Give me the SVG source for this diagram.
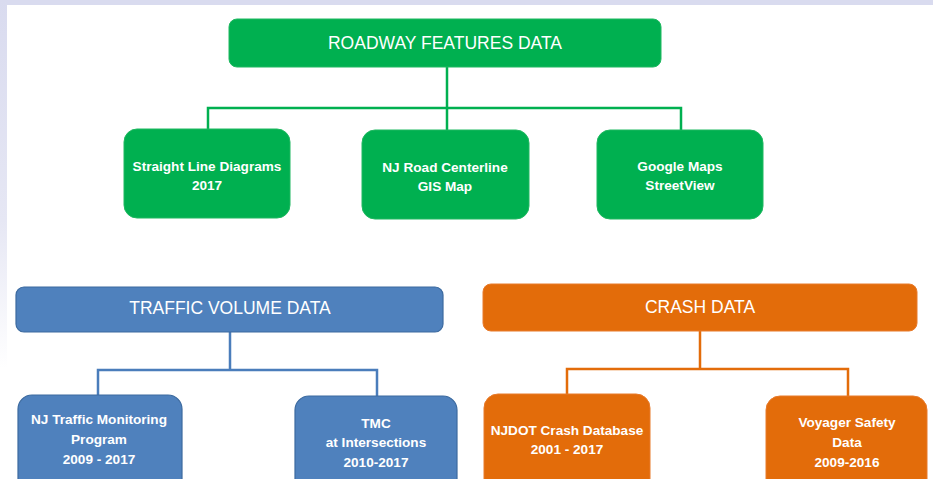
<svg xmlns="http://www.w3.org/2000/svg" width="933" height="479" viewBox="0 0 933 479">
<defs>
<linearGradient id="lband" x1="0" y1="0" x2="0" y2="1">
<stop offset="0" stop-color="#d9dbef"/>
<stop offset="0.6" stop-color="#e6e7f4"/>
<stop offset="1" stop-color="#ffffff"/>
</linearGradient>
</defs>
<style>
.t{font-family:"Liberation Sans",Arial,sans-serif;fill:#ffffff;text-anchor:middle}
.h{font-size:17.5px}
.c{font-size:13.6px;font-weight:bold}
.g{fill:#00b050;stroke:#1fb860;stroke-width:1}
.b{fill:#4f81bd;stroke:#3c6a9f;stroke-width:1.2}
.o{fill:#e36c0a;stroke:#e87a2a;stroke-width:1}
.lg{fill:none;stroke:#00b050;stroke-width:2.5}
.lb{fill:none;stroke:#4a7dbb;stroke-width:2.5}
.lo{fill:none;stroke:#e36c0a;stroke-width:2.5}
</style>
<rect x="0" y="0" width="933" height="479" fill="#ffffff"/>
<rect x="0" y="0" width="933" height="5" fill="#d9dbef"/>
<rect x="0" y="0" width="7" height="368" fill="url(#lband)"/>

<g id="connectors">
<path class="lg" d="M447 67V108M208 130V108H681V130M447 108V130"/>
<path class="lb" d="M230 332V370M98 396V370H377V396"/>
<path class="lo" d="M700 331V369M567 394V369H848V396"/>
</g>

<g id="roadway">
<rect class="g" x="229" y="19" width="432" height="48" rx="8"/>
<text class="t h" x="445" y="49">ROADWAY FEATURES DATA</text>
</g>
<g id="sld">
<rect class="g" x="124" y="129" width="166" height="89" rx="13"/>
<text class="t c" x="207" y="171">Straight Line Diagrams</text>
<text class="t c" x="207" y="190">2017</text>
</g>
<g id="njroad">
<rect class="g" x="362" y="130" width="167" height="89" rx="13"/>
<text class="t c" x="445" y="172">NJ Road Centerline</text>
<text class="t c" x="445" y="191">GIS Map</text>
</g>
<g id="google">
<rect class="g" x="597" y="130" width="166" height="89" rx="13"/>
<text class="t c" x="680" y="171">Google Maps</text>
<text class="t c" x="680" y="190">StreetView</text>
</g>

<g id="traffic">
<rect class="b" x="16" y="287" width="427" height="45" rx="8"/>
<text class="t h" x="230" y="314">TRAFFIC VOLUME DATA</text>
</g>
<g id="njtmp">
<rect class="b" x="18" y="395" width="164" height="100" rx="14"/>
<text class="t c" x="99" y="424">NJ Traffic Monitoring</text>
<text class="t c" x="99" y="444">Program</text>
<text class="t c" x="99" y="464">2009 - 2017</text>
</g>
<g id="tmc">
<rect class="b" x="295" y="396" width="162" height="100" rx="14"/>
<text class="t c" x="376" y="428">TMC</text>
<text class="t c" x="376" y="447">at Intersections</text>
<text class="t c" x="376" y="467">2010-2017</text>
</g>

<g id="crash">
<rect class="o" x="483" y="284" width="434" height="47" rx="8"/>
<text class="t h" x="700" y="313">CRASH DATA</text>
</g>
<g id="njdot">
<rect class="o" x="484" y="394" width="166" height="100" rx="14"/>
<text class="t c" x="567" y="435">NJDOT Crash Database</text>
<text class="t c" x="567" y="454">2001 - 2017</text>
</g>
<g id="voyager">
<rect class="o" x="766" y="396" width="161" height="100" rx="14"/>
<text class="t c" x="847" y="427">Voyager Safety</text>
<text class="t c" x="847" y="447">Data</text>
<text class="t c" x="847" y="467">2009-2016</text>
</g>
</svg>
